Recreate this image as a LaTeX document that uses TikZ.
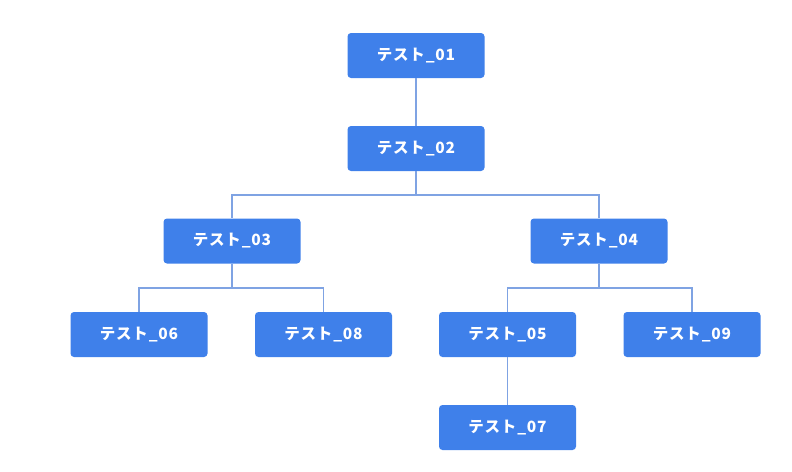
\documentclass[tikz,border=0pt]{standalone}
\usepackage{fontspec}
\newfontfamily\cjk[LetterSpace=5]{Noto Sans CJK JP}
\definecolor{boxblue}{HTML}{3F80EA}
\definecolor{linkblue}{HTML}{7FA3E3}
\begin{document}
\begin{tikzpicture}[x=1pt,y=-1pt,
  box/.style={fill=boxblue, rounded corners=3.5pt, minimum width=137pt, minimum height=45pt, inner sep=0pt, text=white, font=\cjk\bfseries\fontsize{15.5}{18}\selectfont},
  link/.style={draw=linkblue, line width=1.3pt}]
\useasboundingbox (0,0) rectangle (792,471);
\node[box] (n01) at (416,55.5) {テスト\_01};
\node[box] (n02) at (416,148.5) {テスト\_02};
\node[box] (n03) at (232,241) {テスト\_03};
\node[box] (n04) at (599,241) {テスト\_04};
\node[box] (n06) at (139,334.5) {テスト\_06};
\node[box] (n08) at (323.5,334.5) {テスト\_08};
\node[box] (n05) at (507.5,334.5) {テスト\_05};
\node[box] (n09) at (692,334.5) {テスト\_09};
\node[box] (n07) at (507.5,427.5) {テスト\_07};
\coordinate (j2) at (416,195);
\coordinate (j3) at (232,288);
\coordinate (j4) at (599,288);
\draw[link] (n01) -- (n02);
\draw[link] (n02) -- (j2);
\draw[link] (j2) -| (n03);
\draw[link] (j2) -| (n04);
\draw[link] (n03) -- (j3);
\draw[link] (j3) -| (n06);
\draw[link] (j3) -| (n08);
\draw[link] (n04) -- (j4);
\draw[link] (j4) -| (n05);
\draw[link] (j4) -| (n09);
\draw[link] (n05) -- (n07);
\end{tikzpicture}
\end{document}
